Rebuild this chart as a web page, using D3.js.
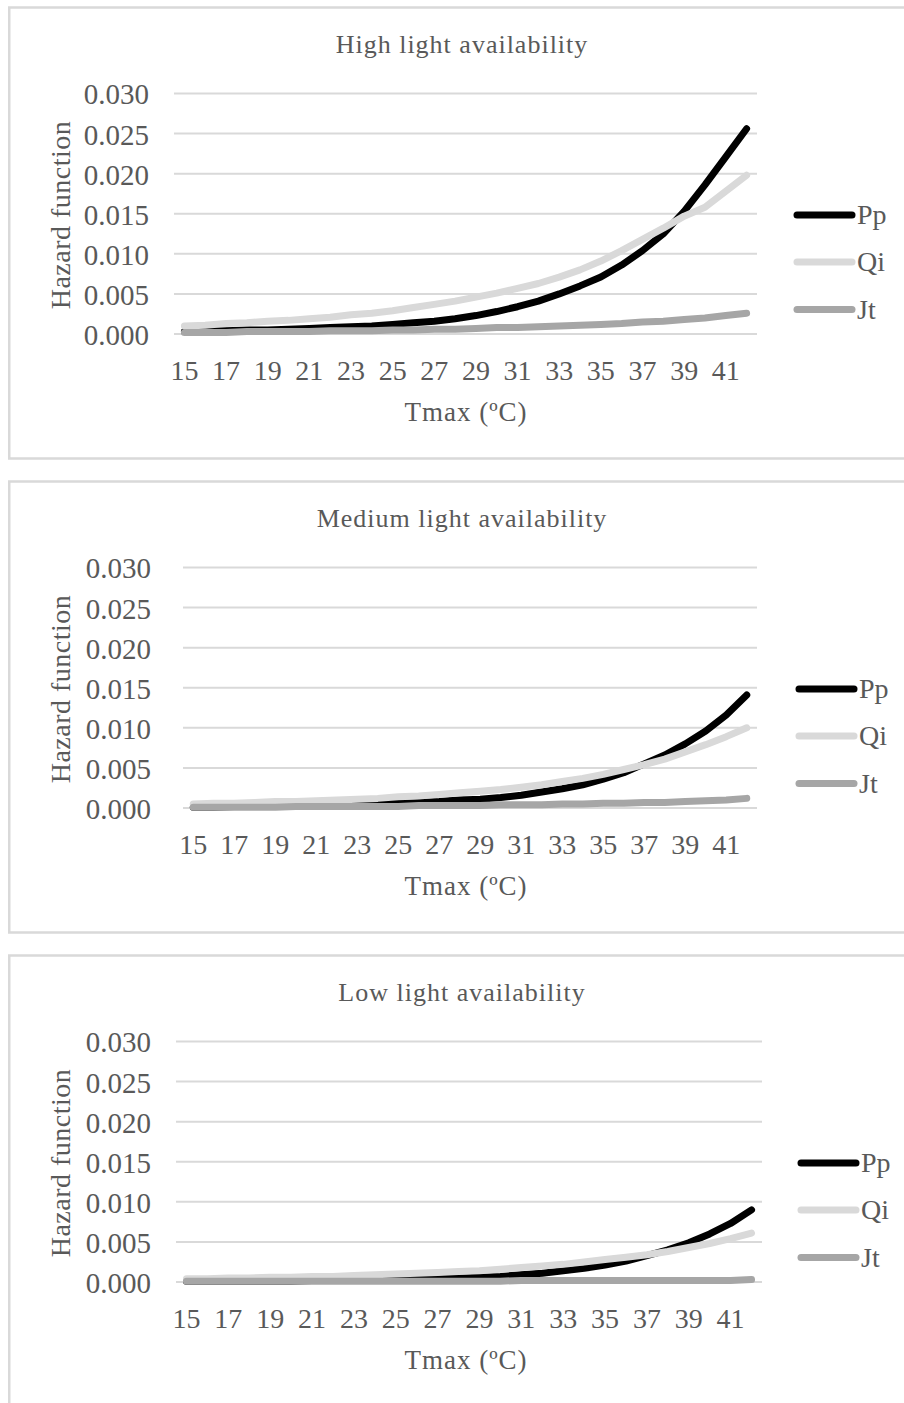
<!DOCTYPE html>
<html>
<head>
<meta charset="utf-8">
<script src="https://cdn.jsdelivr.net/npm/d3@7"></script>
<style>
  body { margin: 0; background: #fff; }
  svg { display: block; }
  text { font-family: "Liberation Serif", "Times New Roman", serif; fill: #595959; }
</style>
</head>
<body>
<svg id="chart"></svg>
<script>
// Tmax categories (ºC)
var temps = [15, 16, 17, 18, 19, 20, 21, 22, 23, 24, 25, 26, 27, 28,
             29, 30, 31, 32, 33, 34, 35, 36, 37, 38, 39, 40, 41, 42];
var yTicks = [0, 0.005, 0.010, 0.015, 0.020, 0.025, 0.030];
var seriesNames = ["Pp", "Qi", "Jt"];
var panelTitles = ["High light availability", "Medium light availability", "Low light availability"];

// high light
var highPp = [0.0003, 0.0004, 0.0004, 0.0005, 0.0005, 0.0006, 0.0007, 0.0008, 0.0009, 0.0010,
              0.0012, 0.0014, 0.0016, 0.0019, 0.0023, 0.0028, 0.0034, 0.0041, 0.0050, 0.0060,
              0.0071, 0.0086, 0.0104, 0.0125, 0.0153, 0.0186, 0.0221, 0.0256];
var highQi = [0.0010, 0.0011, 0.0013, 0.0014, 0.0016, 0.0017, 0.0019, 0.0021, 0.0024, 0.0026,
              0.0029, 0.0033, 0.0037, 0.0041, 0.0046, 0.0051, 0.0057, 0.0063, 0.0071, 0.0080,
              0.0091, 0.0104, 0.0118, 0.0132, 0.0147, 0.0158, 0.0178, 0.0198];
var highJt = [0.0002, 0.0002, 0.0002, 0.0003, 0.0003, 0.0003, 0.0003, 0.0004, 0.0004, 0.0004,
              0.0005, 0.0005, 0.0006, 0.0006, 0.0007, 0.0008, 0.0008, 0.0009, 0.0010, 0.0011,
              0.0012, 0.0013, 0.0015, 0.0016, 0.0018, 0.0020, 0.0023, 0.0026];

// medium light
var medPp = [0.0001, 0.0001, 0.0002, 0.0002, 0.0002, 0.0003, 0.0003, 0.0004, 0.0004, 0.0005,
             0.0006, 0.0007, 0.0008, 0.0010, 0.0011, 0.0013, 0.0016, 0.0020, 0.0024, 0.0029,
             0.0036, 0.0044, 0.0055, 0.0066, 0.0080, 0.0096, 0.0116, 0.0141];
var medQi = [0.0005, 0.0006, 0.0006, 0.0007, 0.0008, 0.0008, 0.0009, 0.0010, 0.0011, 0.0012,
             0.0014, 0.0015, 0.0017, 0.0019, 0.0021, 0.0023, 0.0026, 0.0029, 0.0033, 0.0037,
             0.0042, 0.0048, 0.0054, 0.0061, 0.0070, 0.0079, 0.0089, 0.0100];
var medJt = [0.0001, 0.0001, 0.0001, 0.0001, 0.0001, 0.0002, 0.0002, 0.0002, 0.0002, 0.0002,
             0.0002, 0.0003, 0.0003, 0.0003, 0.0003, 0.0004, 0.0004, 0.0004, 0.0005, 0.0005,
             0.0006, 0.0006, 0.0007, 0.0007, 0.0008, 0.0009, 0.0010, 0.0012];

// low light
var lowPp = [0.0001, 0.0001, 0.0001, 0.0001, 0.0001, 0.0001, 0.0002, 0.0002, 0.0002, 0.0003,
             0.0003, 0.0004, 0.0004, 0.0005, 0.0006, 0.0007, 0.0009, 0.0011, 0.0014, 0.0017,
             0.0021, 0.0026, 0.0033, 0.0040, 0.0049, 0.0060, 0.0073, 0.0090];
var lowQi = [0.0004, 0.0004, 0.0005, 0.0005, 0.0006, 0.0006, 0.0007, 0.0007, 0.0008, 0.0009,
             0.0010, 0.0011, 0.0012, 0.0013, 0.0014, 0.0016, 0.0018, 0.0020, 0.0022, 0.0025,
             0.0028, 0.0031, 0.0034, 0.0038, 0.0043, 0.0048, 0.0054, 0.0061];
var lowJt = [0.0001, 0.0001, 0.0001, 0.0001, 0.0001, 0.0001, 0.0001, 0.0001, 0.0001, 0.0001,
             0.0001, 0.0001, 0.0001, 0.0001, 0.0001, 0.0001, 0.0002, 0.0002, 0.0002, 0.0002,
             0.0002, 0.0002, 0.0002, 0.0002, 0.0002, 0.0002, 0.0002, 0.0003];

var panelData = [[highPp, highQi, highJt], [medPp, medQi, medJt], [lowPp, lowQi, lowJt]];

var colors = ["#000000", "#d9d9d9", "#a6a6a6"];

var width = 904, height = 1403;
var svg = d3.select("#chart").attr("width", width).attr("height", height);

// layout of the three panels
var panelTop = [7.5, 481.5, 955.5];
var plotX = [[174, 757], [183, 757], [176, 762]];
var legendX = [797, 799, 801];

for (var p = 0; p < 3; p++) {
    drawPanel(p);
}

function drawPanel(p) {
    var g = svg.append("g").attr("transform", "translate(0," + panelTop[p] + ")");

    g.append("rect")
        .attr("x", 9.25).attr("y", 0)
        .attr("width", 1000).attr("height", 451)
        .attr("fill", "none")
        .attr("stroke", "#d9d9d9")
        .attr("stroke-width", 2.5);

    var x = d3.scaleBand().domain(temps).range(plotX[p]).padding(0);
    var y = d3.scaleLinear().domain([0, 0.030]).range([326.5, 86]);
    var cx = function (t) { return x(t) + x.bandwidth() / 2; };

    // gridlines
    g.append("g").selectAll("line")
        .data(yTicks).enter().append("line")
        .attr("x1", plotX[p][0]).attr("x2", plotX[p][1])
        .attr("y1", function (d) { return y(d); })
        .attr("y2", function (d) { return y(d); })
        .attr("stroke", "#d9d9d9")
        .attr("stroke-width", 2);

    // y tick labels
    var yAxis = g.append("g")
        .attr("transform", "translate(" + (p == 0 ? 149 : 151) + ",0)")
        .call(d3.axisLeft(y).tickValues(yTicks).tickFormat(d3.format(".3f")).tickSize(0).tickPadding(0));
    yAxis.select(".domain").remove();
    yAxis.selectAll("text")
        .attr("dy", "0.36em")
        .style("font-family", "'Liberation Serif', 'Times New Roman', serif")
        .style("font-size", "29px")
        .style("fill", "#595959");

    // x tick labels
    var xAxis = g.append("g")
        .attr("transform", "translate(0," + y(0) + ")")
        .call(d3.axisBottom(x)
            .tickValues(temps.filter(function (d, i) { return i % 2 == 0; }))
            .tickSize(0).tickPadding(26));
    xAxis.select(".domain").remove();
    xAxis.selectAll("text")
        .style("font-family", "'Liberation Serif', 'Times New Roman', serif")
        .style("font-size", "28px")
        .style("fill", "#595959");

    // series lines
    var line = d3.line()
        .x(function (d, i) { return cx(temps[i]); })
        .y(function (d) { return y(d); });

    panelData[p].forEach(function (vals, s) {
        g.append("path")
            .datum(vals)
            .attr("d", line)
            .attr("fill", "none")
            .attr("stroke", colors[s])
            .attr("stroke-width", 7)
            .attr("stroke-linecap", "round")
            .attr("stroke-linejoin", "round");
    });

    // titles
    g.append("text")
        .attr("x", 462).attr("y", 45.5)
        .attr("text-anchor", "middle")
        .style("font-size", "26px")
        .style("letter-spacing", "1px")
        .text(panelTitles[p]);

    g.append("text")
        .attr("x", 466).attr("y", 413.5)
        .attr("text-anchor", "middle")
        .style("font-size", "27px")
        .style("letter-spacing", "1px")
        .text("Tmax (ºC)");

    g.append("text")
        .attr("transform", "translate(70," + 207.5 + ") rotate(-90)")
        .attr("text-anchor", "middle")
        .style("font-size", "28px")
        .style("letter-spacing", "0.5px")
        .text("Hazard function");

    // legend
    var leg = g.append("g").selectAll("g")
        .data(seriesNames).enter().append("g")
        .attr("transform", function (d, i) { return "translate(" + legendX[p] + "," + [207.5, 254.5, 302][i] + ")"; });
    leg.append("line")
        .attr("x1", 0).attr("x2", 55)
        .attr("stroke", function (d, i) { return colors[i]; })
        .attr("stroke-width", 7)
        .attr("stroke-linecap", "round");
    leg.append("text")
        .attr("x", 60).attr("y", 9)
        .style("font-size", "28px")
        .text(function (d) { return d; });
}
</script>
</body>
</html>
